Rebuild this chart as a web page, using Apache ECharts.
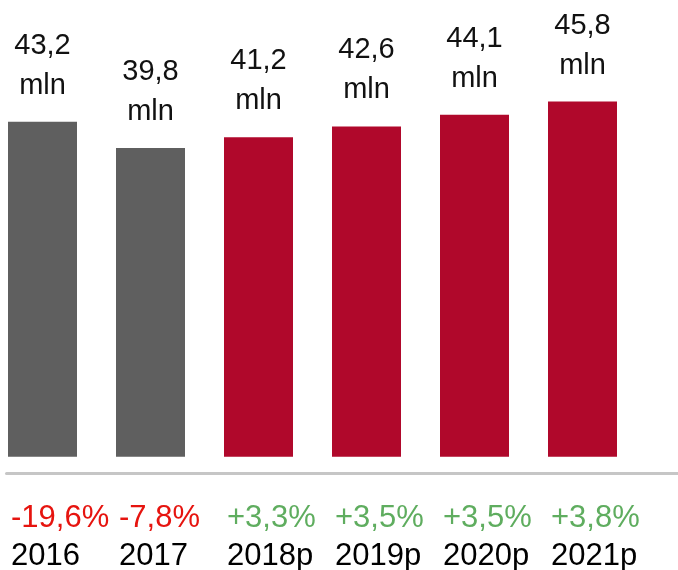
<!DOCTYPE html>
<html>
<head>
<meta charset="utf-8">
<script src="https://cdn.jsdelivr.net/npm/echarts@6/dist/echarts.min.js"></script>
<style>
  html, body { margin: 0; padding: 0; background: #fff; }
  #chart { width: 678px; height: 570px; }
</style>
</head>
<body>
<div id="chart"></div>
<script>
// 数据
const years = ['2016', '2017', '2018p', '2019p', '2020p', '2021p'];
const values = [43.2, 39.8, 41.2, 42.6, 44.1, 45.8];
const changes = ['-19,6%', '-7,8%', '+3,3%', '+3,5%', '+3,5%', '+3,8%'];
const forecast = [false, false, true, true, true, true];

const chart = echarts.init(document.querySelector('#chart'));

const labelFont = '"Liberation Sans", Arial';

chart.setOption({
    animation: false,
    grid: [
        // 柱子
        { left: -11.5, right: 41.5, top: 0, bottom: 97, outerBoundsMode: 'none' },
        // 分隔线
        { left: 6.5, right: 0, top: 400, bottom: 96.5, outerBoundsMode: 'none' },
        // 底部文字
        { left: 11, width: 540, top: 400, bottom: 97, outerBoundsMode: 'none' }
    ],
    xAxis: [
        {
            gridIndex: 0,
            type: 'category',
            data: years,
            axisLine: { show: false },
            axisTick: { show: false },
            axisLabel: { show: false }
        },
        {
            gridIndex: 1,
            type: 'value',
            min: 0,
            max: 1,
            axisLine: {
                show: true,
                onZero: false,
                lineStyle: { color: '#c6c6c6', width: 3 }
            },
            axisTick: { show: false },
            axisLabel: { show: false },
            splitLine: { show: false }
        },
        {
            gridIndex: 2,
            type: 'category',
            boundaryGap: false,
            data: years.map((y, i) => (forecast[i] ? '{pos|' : '{neg|') + changes[i] + '}\n{yr|' + y + '}'),
            axisLine: { show: false },
            axisTick: { show: false },
            axisLabel: {
                interval: 0,
                align: 'left',
                margin: 26,
                fontFamily: labelFont,
                fontSize: 31,
                rich: {
                    neg: { color: '#e6140f', fontSize: 31, lineHeight: 38.5, fontFamily: labelFont },
                    pos: { color: '#5fad5f', fontSize: 31, lineHeight: 38.5, fontFamily: labelFont },
                    yr: { color: '#000', fontSize: 31, lineHeight: 38.5, fontFamily: labelFont }
                }
            }
        }
    ],
    yAxis: [
        { gridIndex: 0, type: 'value', min: -2.1, max: 58.9, show: false },
        { gridIndex: 1, type: 'value', show: false },
        { gridIndex: 2, type: 'value', show: false }
    ],
    series: [
        {
            type: 'bar',
            xAxisIndex: 0,
            yAxisIndex: 0,
            barWidth: 69,
            data: values.map((v, i) => ({
                value: v,
                itemStyle: { color: forecast[i] ? '#b0082b' : '#5f5f5f' }
            })),
            label: {
                show: true,
                position: 'top',
                distance: 16,
                color: '#111',
                fontFamily: labelFont,
                fontSize: 29,
                lineHeight: 40,
                formatter: p => String(p.value).replace('.', ',') + '\nmln'
            }
        }
    ]
});
</script>
</body>
</html>
